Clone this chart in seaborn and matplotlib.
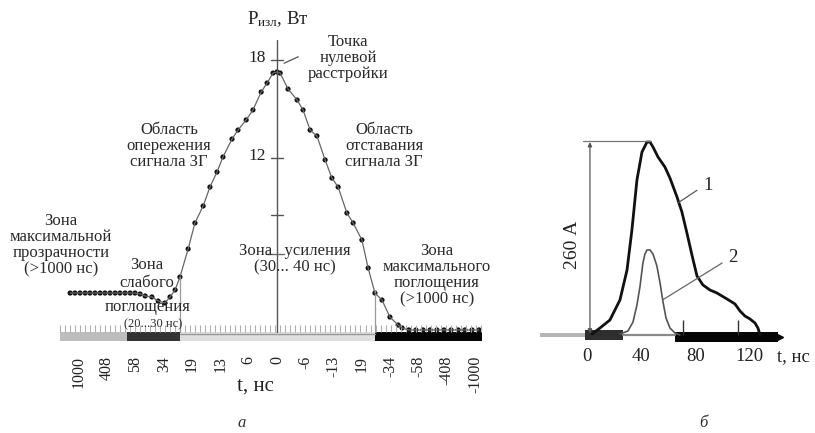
import numpy as np
import pandas as pd
import matplotlib
matplotlib.use("Agg")
import matplotlib.pyplot as plt
import seaborn as sns

sns.set_theme(style="white")
plt.rcParams['font.family'] = ['Liberation Serif', 'DejaVu Serif']
plt.rcParams['mathtext.fontset'] = 'custom'
plt.rcParams['mathtext.rm'] = 'Liberation Serif'
plt.rcParams['mathtext.it'] = 'Liberation Serif:italic'

# ---------------- data: panel a ----------------
x_tick_labels = ['1000', '408', '58', '34', '19', '13', '6', '0', '-6', '-13',
                 '19', '-34', '-58', '-408', '-1000']
# curve positions along categorical axis (index units) and power, W
curve_a_x = [-0.31, -0.14, 0.04, 0.22, 0.39, 0.57, 0.75, 0.92, 1.10, 1.28, 1.45, 1.63,
             1.81, 1.98, 2.16, 2.34, 2.58, 2.80, 3.04, 3.22, 3.40, 3.57, 3.86, 4.10,
             4.39, 4.63, 4.88, 5.09, 5.41, 5.62, 5.91, 6.15, 6.44, 6.65, 6.86, 7.00,
             7.11, 7.39, 7.71, 7.92, 8.17, 8.41, 8.70, 8.94, 9.16, 9.47, 9.69, 10.00,
             10.22, 10.46, 10.71, 10.99, 11.28, 11.42, 11.66, 11.91, 12.16, 12.41,
             12.65, 12.90, 13.15, 13.40, 13.64, 13.89, 14.14]
curve_a_y = [3.73, 3.73, 3.73, 3.73, 3.73, 3.73, 3.73, 3.73, 3.73, 3.73, 3.73, 3.73,
             3.73, 3.73, 3.67, 3.55, 3.49, 3.24, 3.12, 3.49, 3.92, 4.71, 6.43, 8.02,
             9.06, 10.22, 11.14, 12.06, 13.16, 13.71, 14.33, 14.94, 16.04, 16.59, 17.20,
             17.27, 17.20, 16.22, 15.55, 14.94, 13.71, 13.35, 11.88, 10.77, 10.22, 8.63,
             8.02, 6.98, 5.26, 3.73, 3.30, 2.26, 1.77, 1.59, 1.47, 1.47, 1.47, 1.47,
             1.47, 1.47, 1.47, 1.47, 1.47, 1.47, 1.47]
zone_edges = [-0.67, 1.70, 3.57, 10.46, 14.24]
y_ticks_a = [18, 12]

# ---------------- data: panel б ----------------
t1 = [3.7, 9.6, 16.9, 24.3, 29.5, 33.1, 36.8, 40.5, 44.2, 46.4, 48.6, 52.3, 57.4,
      61.1, 66.3, 69.9, 73.6, 77.3, 81.0, 85.4, 90.6, 95.7, 103.1, 109.0, 112.7,
      116.3, 120.0, 123.7, 125.9, 127.4]
i1 = [1.3, 9.4, 20.2, 47.2, 87.6, 141.5, 208.9, 246.6, 260.1, 260.1, 253.4, 239.9,
      226.4, 211.6, 186.0, 165.8, 137.5, 107.8, 79.5, 67.4, 60.6, 56.6, 48.5, 41.8,
      32.3, 25.6, 21.6, 16.2, 9.4, 0.0]
t2 = [24.3, 30.2, 33.9, 36.8, 39.0, 41.2, 42.7, 44.2, 46.4, 48.6, 51.5, 53.8, 56.0,
      58.2, 61.1, 64.8, 68.5]
i2 = [1.3, 5.4, 17.5, 40.4, 64.7, 97.0, 109.2, 114.6, 114.6, 109.2, 93.0, 70.1, 44.5,
      22.9, 9.4, 2.7, 0.0]
t_ticks_b = [0, 40, 80, 120]
peak_current = 260

df_a = pd.DataFrame({'x': curve_a_x, 'y': curve_a_y})
df1 = pd.DataFrame({'t': t1, 'i': i1})
df2 = pd.DataFrame({'t': t2, 'i': i2})

W, H = 815, 433
fig = plt.figure(figsize=(W / 100, H / 100), dpi=100)
ax1 = fig.add_axes([0, 0, 505 / W, 1])
ax2 = fig.add_axes([520 / W, 0, 295 / W, 1])
for ax in (ax1, ax2):
    ax.set_axis_off()

TXT = '#2a2a2a'


def ptext(x, y, s, size=12, **kw):
    kw.setdefault('ha', 'center')
    kw.setdefault('va', 'center')
    kw.setdefault('color', TXT)
    kw.setdefault('linespacing', 1.0)
    fig.text(x / W, 1 - y / H, s, fontsize=size, **kw)


# ================= panel a =================
ax1.set_xlim(-2.788, 15.056)
ax1.set_ylim(-4.841, 21.674)
base = 1.34

# small hatch ticks above the baseline
hx = np.arange(zone_edges[0], zone_edges[-1], 0.177)
ax1.vlines(hx, base, base + 0.45, color='#b0b0b0', lw=0.8)

# zone bars
zone_cols = ['#bdbdbd', '#333333', '#dedede', '#050505']
for k in range(4):
    ax1.barh(1.065, zone_edges[k + 1] - zone_edges[k], left=zone_edges[k],
             height=0.55, color=zone_cols[k], edgecolor='none')
ax1.plot([zone_edges[2], zone_edges[3]], [1.22, 1.22], color='#9a9a9a', lw=1.0)

# vertical axis + zone boundary lines
ax1.plot([7, 7], [base, 19.2], color='#555555', lw=1.0)
ax1.plot([zone_edges[2]] * 2, [base, 4.71], color='#999999', lw=0.9)
ax1.plot([zone_edges[3]] * 2, [base, 3.9], color='#999999', lw=0.9)
for yt in y_ticks_a + [8.5]:
    ax1.plot([6.8, 7.2], [yt, yt], color='#555555', lw=1.0)
ax1.plot([6.6, 7.25], [6.15, 6.15], color='#666666', lw=1.0)
for yt in y_ticks_a:
    ax1.text(6.6, yt + 0.1, str(yt), ha='right', va='center', fontsize=12.5, color='#222222')

sns.lineplot(data=df_a, x='x', y='y', ax=ax1, color='#666666', lw=0.9,
             sort=False, legend=False)
sns.scatterplot(data=df_a, x='x', y='y', ax=ax1, color='#111111', s=14,
                edgecolor='none', legend=False)

# x tick labels (rotated)
for k, lab in enumerate(x_tick_labels):
    ax1.text(k, -0.13, lab, rotation=90, ha='center', va='top', fontsize=11.5,
             color='#222222')
ptext(255, 386, 't, нс', size=15, color='#222222')
ptext(242, 423, 'а', size=12, style='italic', color='#333333')

ptext(278, 19, r'P$_{\mathrm{изл}}$, Вт', size=13.5, color='#222222')
ptext(348, 58, 'Точка\nнулевой\nрасстройки')
ax1.plot([7.25, 7.75], [17.8, 18.2], color='#555555', lw=0.9)
ptext(169, 146, 'Область\nопережения\nсигнала ЗГ')
ptext(384, 146, 'Область\nотставания\nсигнала ЗГ')
ptext(61, 245, 'Зона\nмаксимальной\nпрозрачности\n(>1000 нс)')
ptext(147, 274, 'Зона\nслабого', linespacing=1.1)
ptext(148, 307, 'поглощения')
ptext(153, 324, '(20...30 нс)', size=9)
ptext(295, 259, 'Зона   усиления\n(30... 40 нс)')
ptext(437, 275, 'Зона\nмаксимального\nпоглощения\n(>1000 нс)')

# ================= panel б =================
ax2.set_xlim(-49.3, 167.9)
ax2.set_ylim(-132.1, 451.5)

ax2.barh(0, 33.1, left=-34.6, height=5.4, color='#b5b5b5', edgecolor='none')
ax2.barh(0, 28.0, left=-1.5, height=13.5, color='#2e2e2e', edgecolor='none')
ax2.plot([26.5, 64.8], [0, 0], color='#8a8a8a', lw=1.6)
ax2.barh(-2.7, 75.8, left=64.8, height=13.5, color='#050505', edgecolor='none')
ax2.plot([141.5], [-2.7], marker='>', color='#050505', ms=6)
ax2.vlines([70.7, 111.0], 0, 20, color='#333333', lw=1.0)

sns.lineplot(data=df1, x='t', y='i', ax=ax2, color='#111111', lw=2.0, sort=False,
             legend=False)
sns.lineplot(data=df2, x='t', y='i', ax=ax2, color='#555555', lw=1.2, sort=False,
             legend=False)

# dimension line
ax2.plot([-3, 47], [262, 262], color='#777777', lw=0.9)
ax2.annotate('', xy=(2.2, peak_current), xytext=(2.2, 2),
             arrowprops=dict(arrowstyle='<|-|>', color='#555555', lw=0.9,
                             mutation_scale=6, shrinkA=0, shrinkB=0))
ax2.text(-10.5, 122, f'{peak_current} А', rotation=90, ha='center', va='center',
         fontsize=14, color='#222222')

# labels 1, 2 with leaders
ax2.plot([67, 81], [178, 195], color='#555555', lw=0.9)
ax2.text(89.5, 202, '1', ha='center', va='center', fontsize=13.5, color='#222222')
ax2.plot([55.5, 99.5], [47, 97], color='#666666', lw=0.9)
ax2.text(107.5, 105, '2', ha='center', va='center', fontsize=13.5, color='#222222')

for tt in t_ticks_b:
    ax2.text(tt, -29, str(tt), ha='center', va='center', fontsize=13.5, color='#222222')
ax2.text(152, -29, 't, нс', ha='center', va='center', fontsize=13.5, color='#222222')
ptext(703, 423, 'б', size=12, style='italic', color='#333333')

fig.savefig('out.png', dpi=100)
